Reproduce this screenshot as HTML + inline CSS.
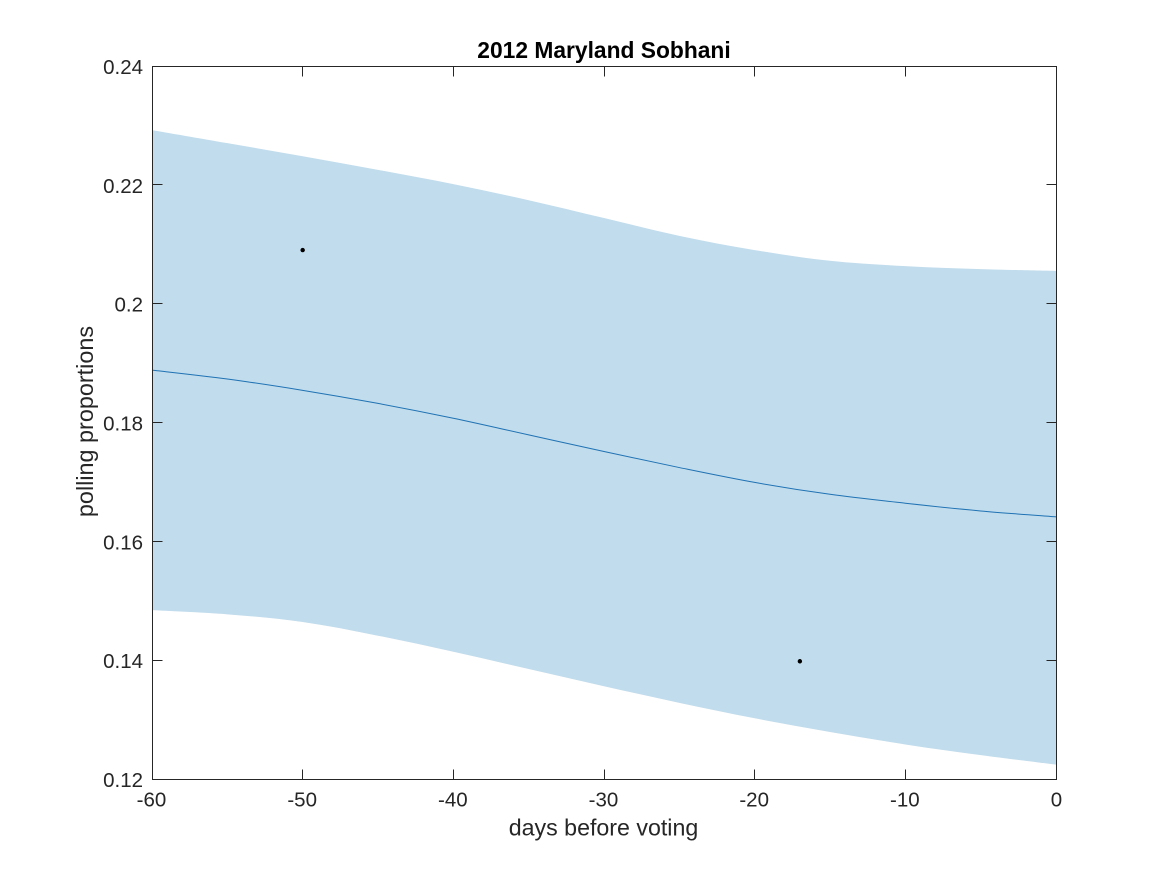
<!DOCTYPE html>
<html>
<head>
<meta charset="utf-8">
<title>2012 Maryland Sobhani</title>
<style>
html,body{margin:0;padding:0;background:#fff;}
svg{display:block;}
text{font-family:"Liberation Sans",Arial,sans-serif;fill:#262626;}
</style>
</head>
<body>
<svg id="chart" width="1167" height="875" viewBox="0 0 1167 875" xmlns="http://www.w3.org/2000/svg">
  <rect x="0" y="0" width="1167" height="875" fill="#ffffff"/>
  <g id="marks"></g>
  <g id="axes"></g>
  <text x="604" y="58" text-anchor="middle" font-size="22.8" font-weight="bold" style="fill:#000">2012 Maryland Sobhani</text>
  <text x="603.5" y="835.5" text-anchor="middle" font-size="23.2">days before voting</text>
  <text transform="translate(93,421.5) rotate(-90)" text-anchor="middle" font-size="23.4">polling proportions</text>
</svg>
<script>
const days = [-60,-55,-50,-45,-40,-35,-30,-25,-20,-15,-10,-5,0];
const meanValues = [0.1889,0.1874,0.1855,0.1833,0.1808,0.1780,0.1752,0.1725,0.1700,0.1680,0.1665,0.1652,0.1642];
const upperValues = [0.2293,0.2271,0.2249,0.2226,0.2202,0.2175,0.2145,0.2115,0.2091,0.2073,0.2064,0.2059,0.2056];
const lowerValues = [0.1485,0.1478,0.1465,0.1442,0.1415,0.1386,0.1357,0.1329,0.1303,0.1280,0.1259,0.1241,0.1225];
const pollDays = [-50,-17];
const pollValues = [0.2091,0.1399];
const xTicks = [-60,-50,-40,-30,-20,-10,0];
const yTicks = [0.12,0.14,0.16,0.18,0.2,0.22,0.24];
const yTickLabels = ['0.12','0.14','0.16','0.18','0.2','0.22','0.24'];

const NS = 'http://www.w3.org/2000/svg';
const plot = {left:152,right:1056,top:66.5,bottom:779.5};
const xDomain = [-60,0];
const yDomain = [0.12,0.24];
function xScale(v){return plot.left+(v-xDomain[0])/(xDomain[1]-xDomain[0])*(plot.right-plot.left);}
function yScale(v){return plot.bottom-(v-yDomain[0])/(yDomain[1]-yDomain[0])*(plot.bottom-plot.top);}

function curveSegments(xs,ys){
  const p=xs.map((x,i)=>[xScale(x),yScale(ys[i])]);
  let d='';
  for(let i=0;i<p.length-1;i++){
    const a=p[Math.max(i-1,0)],b=p[i],c=p[i+1],e=p[Math.min(i+2,p.length-1)];
    const c1=[b[0]+(c[0]-a[0])/6,b[1]+(c[1]-a[1])/6];
    const c2=[c[0]-(e[0]-b[0])/6,c[1]-(e[1]-b[1])/6];
    d+=' C'+c1[0].toFixed(2)+' '+c1[1].toFixed(2)+' '+c2[0].toFixed(2)+' '+c2[1].toFixed(2)+' '+c[0].toFixed(2)+' '+c[1].toFixed(2);
  }
  return d;
}
function start(x,y){return 'M'+xScale(x).toFixed(2)+' '+yScale(y).toFixed(2);}

const marks=document.getElementById('marks');
const axes=document.getElementById('axes');

const band=document.createElementNS(NS,'path');
const rDays=days.slice().reverse();
const rLower=lowerValues.slice().reverse();
band.setAttribute('d',start(days[0],upperValues[0])+curveSegments(days,upperValues)+' L'+xScale(rDays[0]).toFixed(2)+' '+yScale(rLower[0]).toFixed(2)+curveSegments(rDays,rLower)+' Z');
band.setAttribute('fill','#c1dcec');


marks.appendChild(band);

const line=document.createElementNS(NS,'path');
line.setAttribute('d',start(days[0],meanValues[0])+curveSegments(days,meanValues));
line.setAttribute('fill','none');
line.setAttribute('stroke','#1f72b4');
line.setAttribute('stroke-width','1');


marks.appendChild(line);

pollDays.forEach(function(d,i){
  const c=document.createElementNS(NS,'circle');
  c.setAttribute('cx',xScale(d));
  c.setAttribute('cy',yScale(pollValues[i]));
  c.setAttribute('r','2.2');
  c.setAttribute('fill','#000');
  
  
  marks.appendChild(c);
});

const box=document.createElementNS(NS,'rect');
box.setAttribute('x',plot.left+0.5);
box.setAttribute('y',plot.top);
box.setAttribute('width',plot.right-plot.left);
box.setAttribute('height',plot.bottom-plot.top);
box.setAttribute('fill','none');
box.setAttribute('stroke','#262626');
box.setAttribute('stroke-width','1');


axes.appendChild(box);

function tick(x1,y1,x2,y2){
  const t=document.createElementNS(NS,'line');
  t.setAttribute('x1',x1);t.setAttribute('y1',y1);t.setAttribute('x2',x2);t.setAttribute('y2',y2);
  t.setAttribute('stroke','#262626');
  t.setAttribute('stroke-width','1');
  
  
  axes.appendChild(t);
}
xTicks.forEach(function(v){
  const x=Math.floor(xScale(v))+0.5;
  tick(x,plot.bottom,x,plot.bottom-10);
  tick(x,plot.top,x,plot.top+10);
  const l=document.createElementNS(NS,'text');
  l.setAttribute('x',xScale(v)-(v<0?0.5:-0.5));
  l.setAttribute('y',806.5);
  l.setAttribute('text-anchor','middle');
  l.setAttribute('font-size','20.5');
  
  
  l.textContent=String(v);
  axes.appendChild(l);
});
yTicks.forEach(function(v,i){
  const y=Math.floor(yScale(v)-0.4)+0.5;
  tick(plot.left+0.5,y,plot.left+10.5,y);
  tick(plot.right+0.5,y,plot.right-9.5,y);
  const l=document.createElementNS(NS,'text');
  l.setAttribute('x',143);
  l.setAttribute('y',yScale(v)+7.5);
  l.setAttribute('text-anchor','end');
  l.setAttribute('font-size','20.5');
  
  
  l.textContent=yTickLabels[i];
  axes.appendChild(l);
});
</script>
</body>
</html>
